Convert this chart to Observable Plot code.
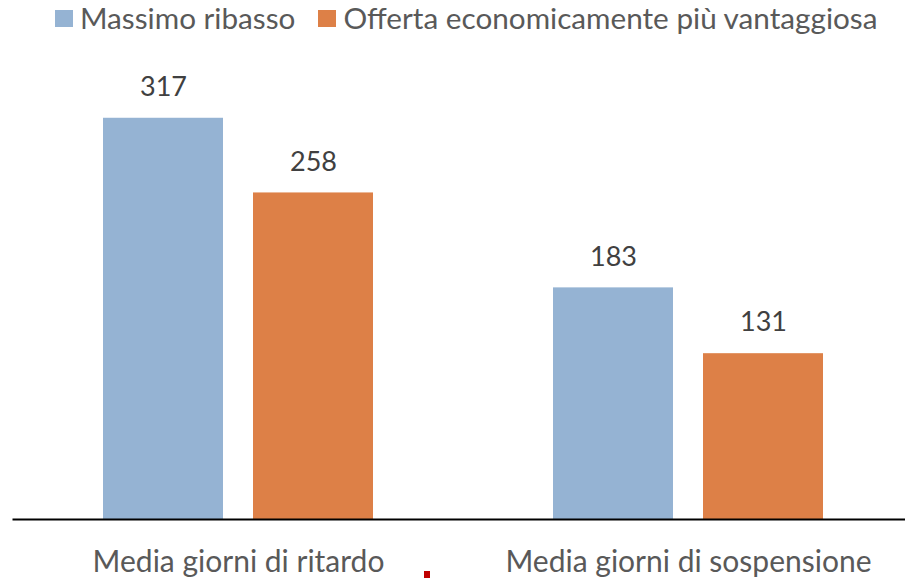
<!DOCTYPE html>
<html>
<head>
<meta charset="utf-8">
<script src="https://cdn.jsdelivr.net/npm/d3@7"></script>
<script src="https://cdn.jsdelivr.net/npm/@observablehq/plot@0.6"></script>
<style>
  html, body { margin: 0; padding: 0; background: #fff; overflow: hidden; }
  body { width: 905px; height: 578px; position: relative; font-family: Lato, "Open Sans", sans-serif; }
  #legend { position: absolute; top: -1px; left: 55px; display: flex; align-items: center; font-size: 29.7px; line-height: 38px; color: #595959; white-space: nowrap; }
  #legend .item { display: flex; align-items: center; margin-right: 23px; }
  #legend .sw { width: 18px; height: 17px; margin-right: 7px; }
  #chart { position: absolute; top: 0; left: 0; }
  #mark { position: absolute; left: 424px; top: 571px; width: 6px; height: 7px; background: #C00000; }
</style>
</head>
<body>
<div id="legend"></div>
<div id="chart"></div>
<div id="mark"></div>
<script>
const categories = ["Media giorni di ritardo", "Media giorni di sospensione"];
const series = ["Massimo ribasso", "Offerta economicamente più vantaggiosa"];
const massimoRibasso = [317, 183];
const offertaPiuVantaggiosa = [258, 131];
const colors = ["#95B3D3", "#DD8047"];

const data = [];
categories.forEach((c, i) => {
  data.push({category: c, series: series[0], value: massimoRibasso[i]});
  data.push({category: c, series: series[1], value: offertaPiuVantaggiosa[i]});
});

const legend = document.getElementById("legend");
series.forEach((s, i) => {
  const it = document.createElement("div");
  it.className = "item";
  it.innerHTML = `<span class="sw" style="background:${colors[i]}"></span><span>${s}</span>`;
  legend.appendChild(it);
});

const chart = Plot.plot({
  width: 913,
  height: 578,
  marginLeft: 13,
  marginRight: 0,
  marginTop: 76,
  marginBottom: 59,
  style: {fontFamily: "Lato, 'Open Sans', sans-serif", color: "#595959", background: "transparent", maxWidth: "none", overflow: "visible"},
  fx: {domain: categories, paddingInner: 0, paddingOuter: 0, label: null},
  x: {domain: series, paddingInner: 0.2, paddingOuter: 0.6, axis: null},
  y: {domain: [0, 350], axis: null},
  color: {domain: series, range: colors},
  marks: [
    Plot.axisFx({anchor: "bottom", tickSize: 0, tickPadding: 31, fontSize: 30, fill: "#595959", label: null}),
    Plot.barY(data, {fx: "category", x: "series", y: "value", fill: "series"}),
    Plot.text(data, {fx: "category", x: "series", y: "value", text: d => String(d.value), dy: -31, lineAnchor: "middle", fontSize: 27, fill: "#404040"}),
    Plot.frame({anchor: "bottom", facet: "super", stroke: "#000", strokeWidth: 2})
  ]
});
document.getElementById("chart").appendChild(chart);
</script>
</body>
</html>
